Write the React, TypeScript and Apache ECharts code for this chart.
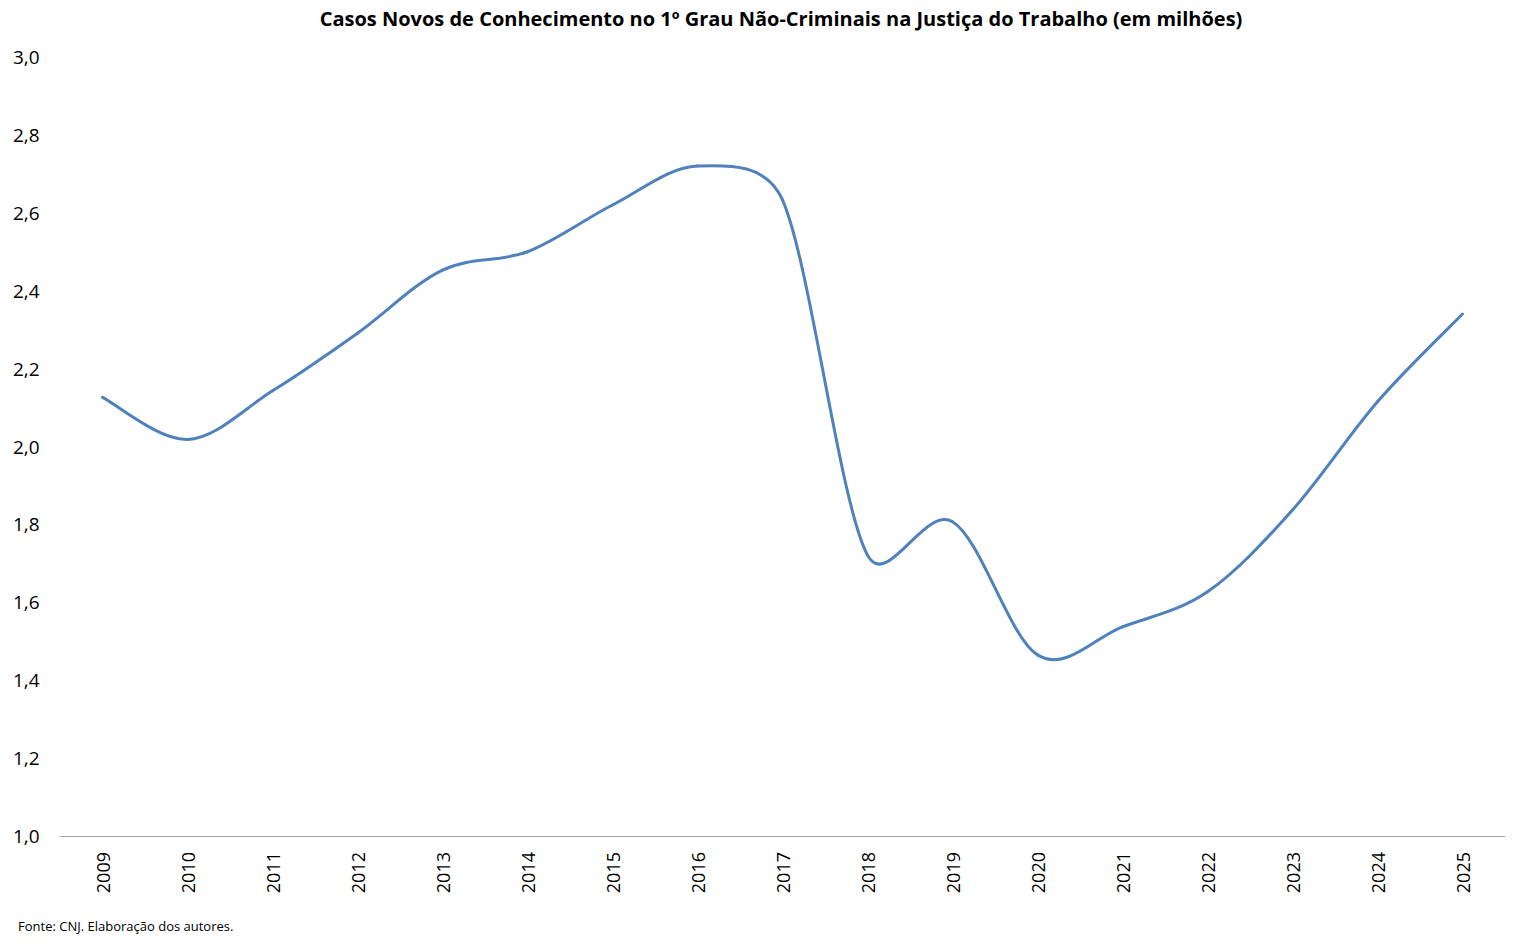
import React, { useEffect, useRef } from "react";
import * as echarts from "echarts";

const years = ["2009","2010","2011","2012","2013","2014","2015","2016","2017","2018","2019","2020","2021","2022","2023","2024","2025"];
const casosNovos = [2.126, 2.018, 2.143, 2.291, 2.453, 2.50, 2.62, 2.72, 2.633, 1.721, 1.807, 1.465, 1.537, 1.627, 1.837, 2.115, 2.34];
const yTicks = { min: 1.0, max: 3.0, step: 0.2 };
const titleText = "Casos Novos de Conhecimento no 1º Grau Não-Criminais na Justiça do Trabalho (em milhões)";
const sourceText = "Fonte: CNJ. Elaboração dos autores.";

const FONT = "'Open Sans', 'Noto Sans', sans-serif";
const LINE_COLOR = "#4f81bd";
const TENSION = 1 / 6;
const CLAMP = 0.45;

export default function App() {
  const ref = useRef<HTMLDivElement>(null);
  useEffect(() => {
    if (!ref.current) return;
    const chart = echarts.init(ref.current, null, { renderer: "svg" });
    const n = casosNovos.length;

    const renderItem = (params: any, api: any) => {
      const i = params.dataIndex;
      if (i >= n - 1) return null;
      const P = (k: number) => {
        const kk = Math.max(0, Math.min(n - 1, k));
        return api.coord([kk, casosNovos[kk]]) as number[];
      };
      const limit = (vx: number, vy: number, maxLen: number) => {
        const len = Math.hypot(vx, vy);
        if (len > maxLen && len > 0) {
          const s = maxLen / len;
          return [vx * s, vy * s];
        }
        return [vx, vy];
      };
      const ctrl = (k: number) => {
        const p = P(k);
        const prev = P(k - 1);
        const next = P(k + 1);
        const tx = (next[0] - prev[0]) * TENSION;
        const ty = (next[1] - prev[1]) * TENSION;
        const d1 = Math.hypot(p[0] - prev[0], p[1] - prev[1]);
        const d2 = Math.hypot(next[0] - p[0], next[1] - p[1]);
        const o = limit(tx, ty, CLAMP * d2);
        const q = limit(tx, ty, CLAMP * d1);
        return {
          inP: [p[0] - q[0], p[1] - q[1]],
          outP: [p[0] + o[0], p[1] + o[1]],
        };
      };
      const a = P(i);
      const b = P(i + 1);
      const ca = ctrl(i).outP;
      const cb = ctrl(i + 1).inP;
      return {
        type: "bezierCurve",
        shape: {
          x1: a[0], y1: a[1],
          x2: b[0], y2: b[1],
          cpx1: ca[0], cpy1: ca[1],
          cpx2: cb[0], cpy2: cb[1],
        },
        style: { stroke: LINE_COLOR, lineWidth: 3, fill: "none", lineCap: "round" },
      };
    };

    chart.setOption({
      animation: false,
      backgroundColor: "#ffffff",
      grid: { left: 60, right: 14, top: 57, bottom: 111, containLabel: false },
      graphic: [
        {
          type: "text",
          x: 781,
          y: 18,
          style: {
            text: titleText,
            font: `bold 20px ${FONT}`,
            fill: "#000000",
            textAlign: "center",
            textVerticalAlign: "middle",
          },
        },
        {
          type: "text",
          x: 18,
          y: 926,
          style: {
            text: sourceText,
            font: `13px ${FONT}`,
            fill: "#000000",
            textAlign: "left",
            textVerticalAlign: "middle",
          },
        },
      ],
      xAxis: {
        type: "category",
        data: years,
        boundaryGap: true,
        axisLine: { show: true, lineStyle: { color: "#a6a6a6", width: 1 } },
        axisTick: { show: false },
        axisLabel: {
          rotate: 90,
          margin: 16,
          color: "#000000",
          fontSize: 18,
          fontFamily: FONT,
          interval: 0,
        },
        splitLine: { show: false },
      },
      yAxis: {
        type: "value",
        min: yTicks.min,
        max: yTicks.max,
        interval: yTicks.step,
        axisLine: { show: false },
        axisTick: { show: false },
        splitLine: { show: false },
        axisLabel: {
          align: "left",
          margin: 47,
          color: "#000000",
          fontSize: 19,
          fontFamily: FONT,
          formatter: (v: number) => v.toFixed(1).replace(".", ","),
        },
      },
      series: [
        {
          type: "custom",
          clip: false,
          data: casosNovos.map((v, i) => [i, v]),
          encode: { x: 0, y: 1 },
          renderItem,
        },
      ],
    });
    return () => chart.dispose();
  }, []);
  return (
    <div
      ref={ref}
      style={{ position: "fixed", left: 0, top: 0, width: 1519, height: 947, background: "#fff" }}
    />
  );
}
